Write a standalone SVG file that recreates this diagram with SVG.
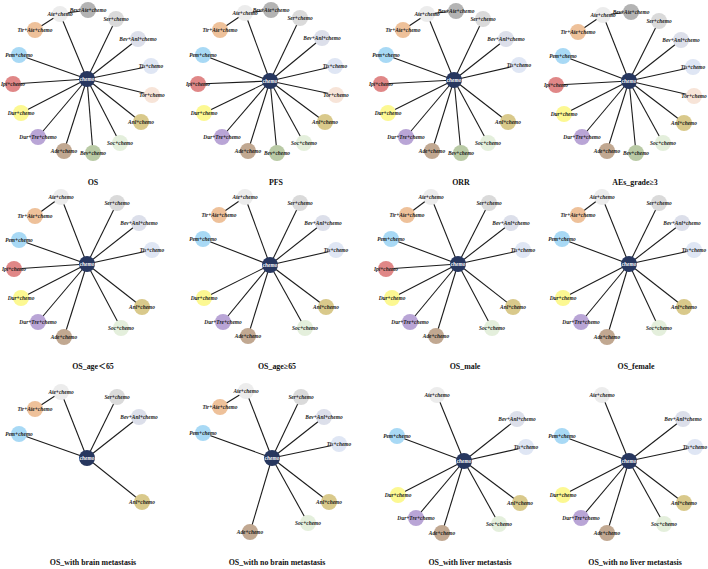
<svg xmlns="http://www.w3.org/2000/svg" width="708" height="569" viewBox="0 0 708 569">
<style>
.e line{stroke:#1c1c1c;stroke-width:1.1}
.n text{font-family:"Liberation Serif",serif;font-style:italic;font-weight:bold;font-size:5.4px;text-anchor:middle;dominant-baseline:central;fill:#1a1a1a}
.n.chemo text{fill:#ffffff}
.title{font-family:"Liberation Serif","Noto Sans CJK SC",serif;font-weight:bold;font-size:7.9px;text-anchor:middle;fill:#111}
.chemo circle{fill:#27375f}
.ate circle{fill:#ececec}
.bevate circle{fill:#b3b3b3}
.ser circle{fill:#dadada}
.tirate circle{fill:#eec19a}
.bevanl circle{fill:#dcdfea}
.pem circle{fill:#a8d9f5}
.tis circle{fill:#dfe6f4}
.ipi circle{fill:#e08787}
.tor circle{fill:#f7e4d8}
.dur circle{fill:#fcf892}
.anl circle{fill:#d9c98b}
.durtre circle{fill:#b9a5d6}
.soc circle{fill:#e4efdc}
.ade circle{fill:#c1a891}
.bev circle{fill:#b9caa5}
</style>
<rect width="708" height="569" fill="#ffffff"/>

<!-- Panel 1: OS -->
<g id="panel-os">
<g id="os-edges" class="e">
<line x1="87" y1="79" x2="60" y2="14"/><line x1="60" y1="14" x2="35" y2="30"/><line x1="60" y1="14" x2="88" y2="10"/>
<line x1="87" y1="79" x2="116" y2="19"/><line x1="87" y1="79" x2="138" y2="39"/><line x1="87" y1="79" x2="19" y2="55"/>
<line x1="87" y1="79" x2="151" y2="66"/><line x1="87" y1="79" x2="13" y2="84"/><line x1="87" y1="79" x2="152" y2="95"/>
<line x1="87" y1="79" x2="21" y2="113"/><line x1="87" y1="79" x2="141" y2="122"/><line x1="87" y1="79" x2="38" y2="137"/>
<line x1="87" y1="79" x2="120" y2="143"/><line x1="87" y1="79" x2="64" y2="151"/><line x1="87" y1="79" x2="93" y2="153"/>
</g>
<g id="os-ate" class="n ate"><circle cx="60" cy="14" r="8"/><text x="60" y="14">Ate+chemo</text></g>
<g id="os-bevate" class="n bevate"><circle cx="88" cy="10" r="8"/><text x="88" y="10">Bev+Ate+chemo</text></g>
<g id="os-ser" class="n ser"><circle cx="116" cy="19" r="8"/><text x="116" y="19">Ser+chemo</text></g>
<g id="os-tirate" class="n tirate"><circle cx="35" cy="30" r="8"/><text x="35" y="30">Tir+Ate+chemo</text></g>
<g id="os-bevanl" class="n bevanl"><circle cx="138" cy="39" r="8"/><text x="138" y="39">Bev+Anl+chemo</text></g>
<g id="os-pem" class="n pem"><circle cx="19" cy="55" r="8"/><text x="19" y="55">Pem+chemo</text></g>
<g id="os-tis" class="n tis"><circle cx="151" cy="66" r="8"/><text x="151" y="66">Tis+chemo</text></g>
<g id="os-ipi" class="n ipi"><circle cx="13" cy="84" r="8"/><text x="13" y="84">Ipi+chemo</text></g>
<g id="os-tor" class="n tor"><circle cx="152" cy="95" r="8"/><text x="152" y="95">Tor+chemo</text></g>
<g id="os-dur" class="n dur"><circle cx="21" cy="113" r="8"/><text x="21" y="113">Dur+chemo</text></g>
<g id="os-anl" class="n anl"><circle cx="141" cy="122" r="8"/><text x="141" y="122">Anl+chemo</text></g>
<g id="os-durtre" class="n durtre"><circle cx="38" cy="137" r="8"/><text x="38" y="137">Dur+Tre+chemo</text></g>
<g id="os-soc" class="n soc"><circle cx="120" cy="143" r="8"/><text x="120" y="143">Soc+chemo</text></g>
<g id="os-ade" class="n ade"><circle cx="64" cy="151" r="8"/><text x="64" y="151">Ade+chemo</text></g>
<g id="os-bev" class="n bev"><circle cx="93" cy="153" r="8"/><text x="93" y="153">Bev+chemo</text></g>
<g id="os-chemo" class="n chemo"><circle cx="87" cy="79" r="8"/><text x="87" y="79">chemo</text></g>
<text class="title" x="93" y="185">OS</text>
</g>

<!-- Panel 2: PFS -->
<g id="panel-pfs">
<g id="pfs-edges" class="e">
<line x1="270" y1="81" x2="245" y2="13"/><line x1="245" y1="13" x2="220" y2="30"/><line x1="245" y1="13" x2="271" y2="10"/>
<line x1="270" y1="81" x2="300" y2="18"/><line x1="270" y1="81" x2="322" y2="38"/><line x1="270" y1="81" x2="203" y2="55"/>
<line x1="270" y1="81" x2="335" y2="66"/><line x1="270" y1="81" x2="198" y2="84"/><line x1="270" y1="81" x2="336" y2="95"/>
<line x1="270" y1="81" x2="204" y2="113"/><line x1="270" y1="81" x2="325" y2="122"/><line x1="270" y1="81" x2="222" y2="137"/>
<line x1="270" y1="81" x2="304" y2="143"/><line x1="270" y1="81" x2="248" y2="151"/><line x1="270" y1="81" x2="277" y2="153"/>
</g>
<g id="pfs-ate" class="n ate"><circle cx="245" cy="13" r="8"/><text x="245" y="13">Ate+chemo</text></g>
<g id="pfs-bevate" class="n bevate"><circle cx="271" cy="10" r="8"/><text x="271" y="10">Bev+Ate+chemo</text></g>
<g id="pfs-ser" class="n ser"><circle cx="300" cy="18" r="8"/><text x="300" y="18">Ser+chemo</text></g>
<g id="pfs-tirate" class="n tirate"><circle cx="220" cy="30" r="8"/><text x="220" y="30">Tir+Ate+chemo</text></g>
<g id="pfs-bevanl" class="n bevanl"><circle cx="322" cy="38" r="8"/><text x="322" y="38">Bev+Anl+chemo</text></g>
<g id="pfs-pem" class="n pem"><circle cx="203" cy="55" r="8"/><text x="203" y="55">Pem+chemo</text></g>
<g id="pfs-tis" class="n tis"><circle cx="335" cy="66" r="8"/><text x="335" y="66">Tis+chemo</text></g>
<g id="pfs-ipi" class="n ipi"><circle cx="198" cy="84" r="8"/><text x="198" y="84">Ipi+chemo</text></g>
<g id="pfs-tor" class="n tor"><circle cx="336" cy="95" r="8"/><text x="336" y="95">Tor+chemo</text></g>
<g id="pfs-dur" class="n dur"><circle cx="204" cy="113" r="8"/><text x="204" y="113">Dur+chemo</text></g>
<g id="pfs-anl" class="n anl"><circle cx="325" cy="122" r="8"/><text x="325" y="122">Anl+chemo</text></g>
<g id="pfs-durtre" class="n durtre"><circle cx="222" cy="137" r="8"/><text x="222" y="137">Dur+Tre+chemo</text></g>
<g id="pfs-soc" class="n soc"><circle cx="304" cy="143" r="8"/><text x="304" y="143">Soc+chemo</text></g>
<g id="pfs-ade" class="n ade"><circle cx="248" cy="151" r="8"/><text x="248" y="151">Ade+chemo</text></g>
<g id="pfs-bev" class="n bev"><circle cx="277" cy="153" r="8"/><text x="277" y="153">Bev+chemo</text></g>
<g id="pfs-chemo" class="n chemo"><circle cx="270" cy="81" r="8"/><text x="270" y="81">chemo</text></g>
<text class="title" x="276" y="185">PFS</text>
</g>

<!-- Panel 3: ORR -->
<g id="panel-orr">
<g id="orr-edges" class="e">
<line x1="454" y1="80" x2="427" y2="14"/><line x1="427" y1="14" x2="403" y2="30"/><line x1="427" y1="14" x2="456" y2="11"/>
<line x1="454" y1="80" x2="483" y2="19"/><line x1="454" y1="80" x2="506" y2="39"/><line x1="454" y1="80" x2="386" y2="55"/>
<line x1="454" y1="80" x2="519" y2="65"/><line x1="454" y1="80" x2="381" y2="84"/>
<line x1="454" y1="80" x2="388" y2="113"/><line x1="454" y1="80" x2="508" y2="122"/><line x1="454" y1="80" x2="406" y2="137"/>
<line x1="454" y1="80" x2="488" y2="143"/><line x1="454" y1="80" x2="432" y2="151"/><line x1="454" y1="80" x2="461" y2="153"/>
</g>
<g id="orr-ate" class="n ate"><circle cx="427" cy="14" r="8"/><text x="427" y="14">Ate+chemo</text></g>
<g id="orr-bevate" class="n bevate"><circle cx="456" cy="11" r="8"/><text x="456" y="11">Bev+Ate+chemo</text></g>
<g id="orr-ser" class="n ser"><circle cx="483" cy="19" r="8"/><text x="483" y="19">Ser+chemo</text></g>
<g id="orr-tirate" class="n tirate"><circle cx="403" cy="30" r="8"/><text x="403" y="30">Tir+Ate+chemo</text></g>
<g id="orr-bevanl" class="n bevanl"><circle cx="506" cy="39" r="8"/><text x="506" y="39">Bev+Anl+chemo</text></g>
<g id="orr-pem" class="n pem"><circle cx="386" cy="55" r="8"/><text x="386" y="55">Pem+chemo</text></g>
<g id="orr-tis" class="n tis"><circle cx="519" cy="65" r="8"/><text x="519" y="65">Tis+chemo</text></g>
<g id="orr-ipi" class="n ipi"><circle cx="381" cy="84" r="8"/><text x="381" y="84">Ipi+chemo</text></g>
<g id="orr-dur" class="n dur"><circle cx="388" cy="113" r="8"/><text x="388" y="113">Dur+chemo</text></g>
<g id="orr-anl" class="n anl"><circle cx="508" cy="122" r="8"/><text x="508" y="122">Anl+chemo</text></g>
<g id="orr-durtre" class="n durtre"><circle cx="406" cy="137" r="8"/><text x="406" y="137">Dur+Tre+chemo</text></g>
<g id="orr-soc" class="n soc"><circle cx="488" cy="143" r="8"/><text x="488" y="143">Soc+chemo</text></g>
<g id="orr-ade" class="n ade"><circle cx="432" cy="151" r="8"/><text x="432" y="151">Ade+chemo</text></g>
<g id="orr-bev" class="n bev"><circle cx="461" cy="153" r="8"/><text x="461" y="153">Bev+chemo</text></g>
<g id="orr-chemo" class="n chemo"><circle cx="454" cy="80" r="8"/><text x="454" y="80">chemo</text></g>
<text class="title" x="461" y="185">ORR</text>
</g>

<!-- Panel 4: AEs_grade>=3 -->
<g id="panel-aes">
<g id="aes-edges" class="e">
<line x1="629" y1="81" x2="603" y2="15"/><line x1="603" y1="15" x2="578" y2="32"/><line x1="603" y1="15" x2="631" y2="12"/>
<line x1="629" y1="81" x2="659" y2="21"/><line x1="629" y1="81" x2="681" y2="40"/><line x1="629" y1="81" x2="563" y2="56"/>
<line x1="629" y1="81" x2="693" y2="67"/><line x1="629" y1="81" x2="556" y2="85"/><line x1="629" y1="81" x2="694" y2="96"/>
<line x1="629" y1="81" x2="564" y2="114"/><line x1="629" y1="81" x2="684" y2="123"/><line x1="629" y1="81" x2="582" y2="137"/>
<line x1="629" y1="81" x2="663" y2="143"/><line x1="629" y1="81" x2="607" y2="151"/><line x1="629" y1="81" x2="636" y2="153"/>
</g>
<g id="aes-ate" class="n ate"><circle cx="603" cy="15" r="8"/><text x="603" y="15">Ate+chemo</text></g>
<g id="aes-bevate" class="n bevate"><circle cx="631" cy="12" r="8"/><text x="631" y="12">Bev+Ate+chemo</text></g>
<g id="aes-ser" class="n ser"><circle cx="659" cy="21" r="8"/><text x="659" y="21">Ser+chemo</text></g>
<g id="aes-tirate" class="n tirate"><circle cx="578" cy="32" r="8"/><text x="578" y="32">Tir+Ate+chemo</text></g>
<g id="aes-bevanl" class="n bevanl"><circle cx="681" cy="40" r="8"/><text x="681" y="40">Bev+Anl+chemo</text></g>
<g id="aes-pem" class="n pem"><circle cx="563" cy="56" r="8"/><text x="563" y="56">Pem+chemo</text></g>
<g id="aes-tis" class="n tis"><circle cx="693" cy="67" r="8"/><text x="693" y="67">Tis+chemo</text></g>
<g id="aes-ipi" class="n ipi"><circle cx="556" cy="85" r="8"/><text x="556" y="85">Ipi+chemo</text></g>
<g id="aes-tor" class="n tor"><circle cx="694" cy="96" r="8"/><text x="694" y="96">Tor+chemo</text></g>
<g id="aes-dur" class="n dur"><circle cx="564" cy="114" r="8"/><text x="564" y="114">Dur+chemo</text></g>
<g id="aes-anl" class="n anl"><circle cx="684" cy="123" r="8"/><text x="684" y="123">Anl+chemo</text></g>
<g id="aes-durtre" class="n durtre"><circle cx="582" cy="137" r="8"/><text x="582" y="137">Dur+Tre+chemo</text></g>
<g id="aes-soc" class="n soc"><circle cx="663" cy="143" r="8"/><text x="663" y="143">Soc+chemo</text></g>
<g id="aes-ade" class="n ade"><circle cx="607" cy="151" r="8"/><text x="607" y="151">Ade+chemo</text></g>
<g id="aes-bev" class="n bev"><circle cx="636" cy="153" r="8"/><text x="636" y="153">Bev+chemo</text></g>
<g id="aes-chemo" class="n chemo"><circle cx="629" cy="81" r="8"/><text x="629" y="81">chemo</text></g>
<text class="title" x="635" y="185">AEs_grade≥3</text>
</g>

<!-- Panel 5: OS_age<65 -->
<g id="panel-age-lt65">
<g id="agelt-edges" class="e">
<line x1="87" y1="264" x2="61" y2="197"/><line x1="61" y1="197" x2="35" y2="216"/>
<line x1="87" y1="264" x2="117" y2="203"/><line x1="87" y1="264" x2="139" y2="223"/><line x1="87" y1="264" x2="19" y2="240"/>
<line x1="87" y1="264" x2="152" y2="250"/><line x1="87" y1="264" x2="14" y2="269"/><line x1="87" y1="264" x2="21" y2="298"/>
<line x1="87" y1="264" x2="142" y2="307"/><line x1="87" y1="264" x2="38" y2="322"/><line x1="87" y1="264" x2="121" y2="328"/>
<line x1="87" y1="264" x2="64" y2="337"/>
</g>
<g id="agelt-ate" class="n ate"><circle cx="61" cy="197" r="8"/><text x="61" y="197">Ate+chemo</text></g>
<g id="agelt-tirate" class="n tirate"><circle cx="35" cy="216" r="8"/><text x="35" y="216">Tir+Ate+chemo</text></g>
<g id="agelt-ser" class="n ser"><circle cx="117" cy="203" r="8"/><text x="117" y="203">Ser+chemo</text></g>
<g id="agelt-bevanl" class="n bevanl"><circle cx="139" cy="223" r="8"/><text x="139" y="223">Bev+Anl+chemo</text></g>
<g id="agelt-pem" class="n pem"><circle cx="19" cy="240" r="8"/><text x="19" y="240">Pem+chemo</text></g>
<g id="agelt-tis" class="n tis"><circle cx="152" cy="250" r="8"/><text x="152" y="250">Tis+chemo</text></g>
<g id="agelt-ipi" class="n ipi"><circle cx="14" cy="269" r="8"/><text x="14" y="269">Ipi+chemo</text></g>
<g id="agelt-dur" class="n dur"><circle cx="21" cy="298" r="8"/><text x="21" y="298">Dur+chemo</text></g>
<g id="agelt-anl" class="n anl"><circle cx="142" cy="307" r="8"/><text x="142" y="307">Anl+chemo</text></g>
<g id="agelt-durtre" class="n durtre"><circle cx="38" cy="322" r="8"/><text x="38" y="322">Dur+Tre+chemo</text></g>
<g id="agelt-soc" class="n soc"><circle cx="121" cy="328" r="8"/><text x="121" y="328">Soc+chemo</text></g>
<g id="agelt-ade" class="n ade"><circle cx="64" cy="337" r="8"/><text x="64" y="337">Ade+chemo</text></g>
<g id="agelt-chemo" class="n chemo"><circle cx="87" cy="264" r="8"/><text x="87" y="264">chemo</text></g>
<text class="title" x="93" y="369">OS_age＜65</text>
</g>

<!-- Panel 6: OS_age>=65 -->
<g id="panel-age-ge65">
<g id="agege-edges" class="e">
<line x1="270" y1="265" x2="245" y2="197"/><line x1="245" y1="197" x2="219" y2="215"/>
<line x1="270" y1="265" x2="300" y2="203"/><line x1="270" y1="265" x2="323" y2="223"/><line x1="270" y1="265" x2="203" y2="239"/>
<line x1="270" y1="265" x2="336" y2="250"/><line x1="270" y1="265" x2="204" y2="298"/>
<line x1="270" y1="265" x2="326" y2="307"/><line x1="270" y1="265" x2="223" y2="322"/><line x1="270" y1="265" x2="305" y2="328"/>
<line x1="270" y1="265" x2="248" y2="336"/>
</g>
<g id="agege-ate" class="n ate"><circle cx="245" cy="197" r="8"/><text x="245" y="197">Ate+chemo</text></g>
<g id="agege-tirate" class="n tirate"><circle cx="219" cy="215" r="8"/><text x="219" y="215">Tir+Ate+chemo</text></g>
<g id="agege-ser" class="n ser"><circle cx="300" cy="203" r="8"/><text x="300" y="203">Ser+chemo</text></g>
<g id="agege-bevanl" class="n bevanl"><circle cx="323" cy="223" r="8"/><text x="323" y="223">Bev+Anl+chemo</text></g>
<g id="agege-pem" class="n pem"><circle cx="203" cy="239" r="8"/><text x="203" y="239">Pem+chemo</text></g>
<g id="agege-tis" class="n tis"><circle cx="336" cy="250" r="8"/><text x="336" y="250">Tis+chemo</text></g>
<g id="agege-dur" class="n dur"><circle cx="204" cy="298" r="8"/><text x="204" y="298">Dur+chemo</text></g>
<g id="agege-anl" class="n anl"><circle cx="326" cy="307" r="8"/><text x="326" y="307">Anl+chemo</text></g>
<g id="agege-durtre" class="n durtre"><circle cx="223" cy="322" r="8"/><text x="223" y="322">Dur+Tre+chemo</text></g>
<g id="agege-soc" class="n soc"><circle cx="305" cy="328" r="8"/><text x="305" y="328">Soc+chemo</text></g>
<g id="agege-ade" class="n ade"><circle cx="248" cy="336" r="8"/><text x="248" y="336">Ade+chemo</text></g>
<g id="agege-chemo" class="n chemo"><circle cx="270" cy="265" r="8"/><text x="270" y="265">chemo</text></g>
<text class="title" x="277" y="369">OS_age≥65</text>
</g>

<!-- Panel 7: OS_male -->
<g id="panel-male">
<g id="male-edges" class="e">
<line x1="458" y1="264" x2="431" y2="197"/><line x1="431" y1="197" x2="407" y2="215"/>
<line x1="458" y1="264" x2="489" y2="203"/><line x1="458" y1="264" x2="511" y2="223"/><line x1="458" y1="264" x2="391" y2="239"/>
<line x1="458" y1="264" x2="523" y2="250"/><line x1="458" y1="264" x2="386" y2="269"/><line x1="458" y1="264" x2="392" y2="298"/>
<line x1="458" y1="264" x2="513" y2="307"/><line x1="458" y1="264" x2="410" y2="322"/><line x1="458" y1="264" x2="492" y2="328"/>
<line x1="458" y1="264" x2="436" y2="336"/>
</g>
<g id="male-ate" class="n ate"><circle cx="431" cy="197" r="8"/><text x="431" y="197">Ate+chemo</text></g>
<g id="male-tirate" class="n tirate"><circle cx="407" cy="215" r="8"/><text x="407" y="215">Tir+Ate+chemo</text></g>
<g id="male-ser" class="n ser"><circle cx="489" cy="203" r="8"/><text x="489" y="203">Ser+chemo</text></g>
<g id="male-bevanl" class="n bevanl"><circle cx="511" cy="223" r="8"/><text x="511" y="223">Bev+Anl+chemo</text></g>
<g id="male-pem" class="n pem"><circle cx="391" cy="239" r="8"/><text x="391" y="239">Pem+chemo</text></g>
<g id="male-tis" class="n tis"><circle cx="523" cy="250" r="8"/><text x="523" y="250">Tis+chemo</text></g>
<g id="male-ipi" class="n ipi"><circle cx="386" cy="269" r="8"/><text x="386" y="269">Ipi+chemo</text></g>
<g id="male-dur" class="n dur"><circle cx="392" cy="298" r="8"/><text x="392" y="298">Dur+chemo</text></g>
<g id="male-anl" class="n anl"><circle cx="513" cy="307" r="8"/><text x="513" y="307">Anl+chemo</text></g>
<g id="male-durtre" class="n durtre"><circle cx="410" cy="322" r="8"/><text x="410" y="322">Dur+Tre+chemo</text></g>
<g id="male-soc" class="n soc"><circle cx="492" cy="328" r="8"/><text x="492" y="328">Soc+chemo</text></g>
<g id="male-ade" class="n ade"><circle cx="436" cy="336" r="8"/><text x="436" y="336">Ade+chemo</text></g>
<g id="male-chemo" class="n chemo"><circle cx="458" cy="264" r="8"/><text x="458" y="264">chemo</text></g>
<text class="title" x="465" y="369">OS_male</text>
</g>

<!-- Panel 8: OS_female -->
<g id="panel-female">
<g id="female-edges" class="e">
<line x1="629" y1="264" x2="602" y2="197"/><line x1="602" y1="197" x2="578" y2="215"/>
<line x1="629" y1="264" x2="659" y2="203"/><line x1="629" y1="264" x2="682" y2="223"/><line x1="629" y1="264" x2="562" y2="239"/>
<line x1="629" y1="264" x2="694" y2="250"/><line x1="629" y1="264" x2="563" y2="298"/>
<line x1="629" y1="264" x2="684" y2="307"/><line x1="629" y1="264" x2="581" y2="322"/><line x1="629" y1="264" x2="659" y2="328"/>
<line x1="629" y1="264" x2="607" y2="337"/>
</g>
<g id="female-ate" class="n ate"><circle cx="602" cy="197" r="8"/><text x="602" y="197">Ate+chemo</text></g>
<g id="female-tirate" class="n tirate"><circle cx="578" cy="215" r="8"/><text x="578" y="215">Tir+Ate+chemo</text></g>
<g id="female-ser" class="n ser"><circle cx="659" cy="203" r="8"/><text x="659" y="203">Ser+chemo</text></g>
<g id="female-bevanl" class="n bevanl"><circle cx="682" cy="223" r="8"/><text x="682" y="223">Bev+Anl+chemo</text></g>
<g id="female-pem" class="n pem"><circle cx="562" cy="239" r="8"/><text x="562" y="239">Pem+chemo</text></g>
<g id="female-tis" class="n tis"><circle cx="694" cy="250" r="8"/><text x="694" y="250">Tis+chemo</text></g>
<g id="female-dur" class="n dur"><circle cx="563" cy="298" r="8"/><text x="563" y="298">Dur+chemo</text></g>
<g id="female-anl" class="n anl"><circle cx="684" cy="307" r="8"/><text x="684" y="307">Anl+chemo</text></g>
<g id="female-durtre" class="n durtre"><circle cx="581" cy="322" r="8"/><text x="581" y="322">Dur+Tre+chemo</text></g>
<g id="female-soc" class="n soc"><circle cx="659" cy="328" r="8"/><text x="659" y="328">Soc+chemo</text></g>
<g id="female-ade" class="n ade"><circle cx="607" cy="337" r="8"/><text x="607" y="337">Ade+chemo</text></g>
<g id="female-chemo" class="n chemo"><circle cx="629" cy="264" r="8"/><text x="629" y="264">chemo</text></g>
<text class="title" x="636" y="369">OS_female</text>
</g>

<!-- Panel 9: OS_with brain metastasis -->
<g id="panel-brain">
<g id="brain-edges" class="e">
<line x1="87" y1="458" x2="61" y2="392"/><line x1="61" y1="392" x2="35" y2="409"/>
<line x1="87" y1="458" x2="117" y2="397"/><line x1="87" y1="458" x2="139" y2="417"/><line x1="87" y1="458" x2="19" y2="434"/>
<line x1="87" y1="458" x2="142" y2="502"/>
</g>
<g id="brain-ate" class="n ate"><circle cx="61" cy="392" r="8"/><text x="61" y="392">Ate+chemo</text></g>
<g id="brain-tirate" class="n tirate"><circle cx="35" cy="409" r="8"/><text x="35" y="409">Tir+Ate+chemo</text></g>
<g id="brain-ser" class="n ser"><circle cx="117" cy="397" r="8"/><text x="117" y="397">Ser+chemo</text></g>
<g id="brain-bevanl" class="n bevanl"><circle cx="139" cy="417" r="8"/><text x="139" y="417">Bev+Anl+chemo</text></g>
<g id="brain-pem" class="n pem"><circle cx="19" cy="434" r="8"/><text x="19" y="434">Pem+chemo</text></g>
<g id="brain-anl" class="n anl"><circle cx="142" cy="502" r="8"/><text x="142" y="502">Anl+chemo</text></g>
<g id="brain-chemo" class="n chemo"><circle cx="87" cy="458" r="8"/><text x="87" y="458">chemo</text></g>
<text class="title" x="93" y="565">OS_with brain metastasis</text>
</g>

<!-- Panel 10: OS_with no brain metastasis -->
<g id="panel-nobrain">
<g id="nobrain-edges" class="e">
<line x1="272" y1="458" x2="246" y2="391"/><line x1="246" y1="391" x2="220" y2="407"/>
<line x1="272" y1="458" x2="301" y2="397"/><line x1="272" y1="458" x2="324" y2="417"/><line x1="272" y1="458" x2="203" y2="433"/>
<line x1="272" y1="458" x2="339" y2="444"/><line x1="272" y1="458" x2="329" y2="502"/><line x1="272" y1="458" x2="308" y2="523"/>
<line x1="272" y1="458" x2="250" y2="532"/>
</g>
<g id="nobrain-ate" class="n ate"><circle cx="246" cy="391" r="8"/><text x="246" y="391">Ate+chemo</text></g>
<g id="nobrain-tirate" class="n tirate"><circle cx="220" cy="407" r="8"/><text x="220" y="407">Tir+Ate+chemo</text></g>
<g id="nobrain-ser" class="n ser"><circle cx="301" cy="397" r="8"/><text x="301" y="397">Ser+chemo</text></g>
<g id="nobrain-bevanl" class="n bevanl"><circle cx="324" cy="417" r="8"/><text x="324" y="417">Bev+Anl+chemo</text></g>
<g id="nobrain-pem" class="n pem"><circle cx="203" cy="433" r="8"/><text x="203" y="433">Pem+chemo</text></g>
<g id="nobrain-tis" class="n tis"><circle cx="339" cy="444" r="8"/><text x="339" y="444">Tis+chemo</text></g>
<g id="nobrain-anl" class="n anl"><circle cx="329" cy="502" r="8"/><text x="329" y="502">Anl+chemo</text></g>
<g id="nobrain-soc" class="n soc"><circle cx="308" cy="523" r="8"/><text x="308" y="523">Soc+chemo</text></g>
<g id="nobrain-ade" class="n ade"><circle cx="250" cy="532" r="8"/><text x="250" y="532">Ade+chemo</text></g>
<g id="nobrain-chemo" class="n chemo"><circle cx="272" cy="458" r="8"/><text x="272" y="458">chemo</text></g>
<text class="title" x="277" y="565">OS_with no brain metastasis</text>
</g>

<!-- Panel 11: OS_with liver metastasis -->
<g id="panel-liver">
<g id="liver-edges" class="e">
<line x1="464" y1="461" x2="437" y2="395"/><line x1="464" y1="461" x2="517" y2="419"/><line x1="464" y1="461" x2="526" y2="447"/>
<line x1="464" y1="461" x2="397" y2="436"/><line x1="464" y1="461" x2="398" y2="495"/><line x1="464" y1="461" x2="520" y2="503"/>
<line x1="464" y1="461" x2="416" y2="518"/><line x1="464" y1="461" x2="499" y2="524"/><line x1="464" y1="461" x2="442" y2="533"/>
</g>
<g id="liver-ate" class="n ate"><circle cx="437" cy="395" r="8"/><text x="437" y="395">Ate+chemo</text></g>
<g id="liver-bevanl" class="n bevanl"><circle cx="517" cy="419" r="8"/><text x="517" y="419">Bev+Anl+chemo</text></g>
<g id="liver-tis" class="n tis"><circle cx="526" cy="447" r="8"/><text x="526" y="447">Tis+chemo</text></g>
<g id="liver-pem" class="n pem"><circle cx="397" cy="436" r="8"/><text x="397" y="436">Pem+chemo</text></g>
<g id="liver-dur" class="n dur"><circle cx="398" cy="495" r="8"/><text x="398" y="495">Dur+chemo</text></g>
<g id="liver-anl" class="n anl"><circle cx="520" cy="503" r="8"/><text x="520" y="503">Anl+chemo</text></g>
<g id="liver-durtre" class="n durtre"><circle cx="416" cy="518" r="8"/><text x="416" y="518">Dur+Tre+chemo</text></g>
<g id="liver-soc" class="n soc"><circle cx="499" cy="524" r="8"/><text x="499" y="524">Soc+chemo</text></g>
<g id="liver-ade" class="n ade"><circle cx="442" cy="533" r="8"/><text x="442" y="533">Ade+chemo</text></g>
<g id="liver-chemo" class="n chemo"><circle cx="464" cy="461" r="8"/><text x="464" y="461">chemo</text></g>
<text class="title" x="470" y="565">OS_with liver metastasis</text>
</g>

<!-- Panel 12: OS_with no liver metastasis -->
<g id="panel-noliver">
<g id="noliver-edges" class="e">
<line x1="629" y1="461" x2="602" y2="395"/><line x1="629" y1="461" x2="683" y2="419"/><line x1="629" y1="461" x2="695" y2="447"/>
<line x1="629" y1="461" x2="562" y2="436"/><line x1="629" y1="461" x2="563" y2="495"/><line x1="629" y1="461" x2="684" y2="503"/>
<line x1="629" y1="461" x2="581" y2="518"/><line x1="629" y1="461" x2="664" y2="524"/><line x1="629" y1="461" x2="607" y2="533"/>
</g>
<g id="noliver-ate" class="n ate"><circle cx="602" cy="395" r="8"/><text x="602" y="395">Ate+chemo</text></g>
<g id="noliver-bevanl" class="n bevanl"><circle cx="683" cy="419" r="8"/><text x="683" y="419">Bev+Anl+chemo</text></g>
<g id="noliver-tis" class="n tis"><circle cx="695" cy="447" r="8"/><text x="695" y="447">Tis+chemo</text></g>
<g id="noliver-pem" class="n pem"><circle cx="562" cy="436" r="8"/><text x="562" y="436">Pem+chemo</text></g>
<g id="noliver-dur" class="n dur"><circle cx="563" cy="495" r="8"/><text x="563" y="495">Dur+chemo</text></g>
<g id="noliver-anl" class="n anl"><circle cx="684" cy="503" r="8"/><text x="684" y="503">Anl+chemo</text></g>
<g id="noliver-durtre" class="n durtre"><circle cx="581" cy="518" r="8"/><text x="581" y="518">Dur+Tre+chemo</text></g>
<g id="noliver-soc" class="n soc"><circle cx="664" cy="524" r="8"/><text x="664" y="524">Soc+chemo</text></g>
<g id="noliver-ade" class="n ade"><circle cx="607" cy="533" r="8"/><text x="607" y="533">Ade+chemo</text></g>
<g id="noliver-chemo" class="n chemo"><circle cx="629" cy="461" r="8"/><text x="629" y="461">chemo</text></g>
<text class="title" x="635" y="565">OS_with no liver metastasis</text>
</g>
</svg>
